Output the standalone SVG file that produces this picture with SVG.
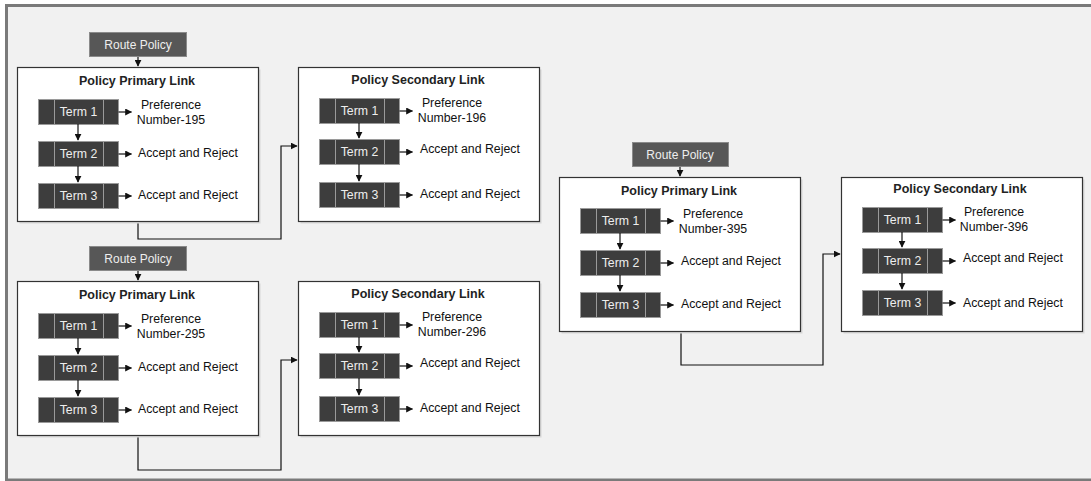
<svg xmlns="http://www.w3.org/2000/svg" width="1091" height="481" viewBox="0 0 1091 481">
<defs>
<marker id="ah" viewBox="0 0 10 10" refX="9" refY="5" markerWidth="7" markerHeight="7" markerUnits="userSpaceOnUse" orient="auto"><path d="M0,0 L10,5 L0,10 z" fill="#111"/></marker>
<g id="term">
<rect x="0" y="0" width="80" height="25" fill="#3d3d3d" stroke="#9a9a9a" stroke-width="1"/>
<line x1="16" y1="0" x2="16" y2="25" stroke="#9a9a9a" stroke-width="1"/>
<line x1="65" y1="0" x2="65" y2="25" stroke="#9a9a9a" stroke-width="1"/>
<line x1="80" y1="12.5" x2="93" y2="12.5" class="conn" marker-end="url(#ah)"/>
</g>
</defs>
<style>
text{font-family:"Liberation Sans",Arial,sans-serif;}
.box{fill:#fff;stroke:#333;stroke-width:1.2;}
.shadow{fill:#d8d8d8;}
.title{font-size:12.5px;font-weight:bold;fill:#222;text-anchor:middle;}
.tl{font-size:12.3px;fill:#eee;text-anchor:middle;}
.lbl{font-size:12.3px;fill:#111;}
.lblc{font-size:12.3px;fill:#111;text-anchor:middle;}
.rp{fill:#575757;stroke:#8a8a8a;stroke-width:1;}
.rpt{font-size:12px;fill:#eee;text-anchor:middle;}
.conn{fill:none;stroke:#111;stroke-width:1.2;}
</style>
<rect x="6.5" y="5.5" width="1100" height="474.5" fill="#f1f1f1" stroke="#7a7a7a" stroke-width="3"/>

<g id="connectors">
<path class="conn" d="M138,56 V66" marker-end="url(#ah)"/>
<path class="conn" d="M138,270 V280" marker-end="url(#ah)"/>
<path class="conn" d="M680,166 V176" marker-end="url(#ah)"/>
<path class="conn" d="M138,222 V239 H281 V146 H297" marker-end="url(#ah)"/>
<path class="conn" d="M138,436 V470 H281 V360 H297" marker-end="url(#ah)"/>
<path class="conn" d="M681,331 V365 H823 V254 H840" marker-end="url(#ah)"/>
</g>

<g id="route-policy-1">
<rect class="rp" x="89.5" y="32.5" width="97" height="24"/>
<text class="rpt" x="138" y="48.5">Route Policy</text>
</g>
<g id="route-policy-2">
<rect class="rp" x="89.5" y="246.5" width="97" height="24"/>
<text class="rpt" x="138" y="262.5">Route Policy</text>
</g>
<g id="route-policy-3">
<rect class="rp" x="632.5" y="142.5" width="96" height="24"/>
<text class="rpt" x="680" y="158.5">Route Policy</text>
</g>

<g id="primary-1">
<rect class="shadow" x="19.5" y="69.5" width="241" height="154"/>
<rect class="box" x="17.5" y="67.5" width="241" height="154"/>
<text class="title" x="137" y="85">Policy Primary Link</text>
<use href="#term" x="38.5" y="99.5"/>
<use href="#term" x="38.5" y="141.5"/>
<use href="#term" x="38.5" y="183.5"/>
<text class="tl" x="78.5" y="116">Term 1</text>
<text class="tl" x="78.5" y="158">Term 2</text>
<text class="tl" x="78.5" y="200">Term 3</text>
<path class="conn" d="M78,124 V140" marker-end="url(#ah)"/>
<path class="conn" d="M78,166 V182" marker-end="url(#ah)"/>
<text class="lblc" x="171" y="109">Preference</text>
<text class="lblc" x="171" y="124">Number-195</text>
<text class="lbl" x="138" y="157">Accept and Reject</text>
<text class="lbl" x="138" y="199">Accept and Reject</text>
</g>

<g id="secondary-1">
<rect class="shadow" x="300.5" y="69.5" width="241" height="154"/>
<rect class="box" x="298.5" y="67.5" width="241" height="154"/>
<text class="title" x="418" y="84">Policy Secondary Link</text>
<use href="#term" x="319.5" y="98.5"/>
<use href="#term" x="319.5" y="139.5"/>
<use href="#term" x="319.5" y="182.5"/>
<text class="tl" x="359.5" y="115">Term 1</text>
<text class="tl" x="359.5" y="156">Term 2</text>
<text class="tl" x="359.5" y="199">Term 3</text>
<path class="conn" d="M359,123 V138" marker-end="url(#ah)"/>
<path class="conn" d="M359,164 V181" marker-end="url(#ah)"/>
<text class="lblc" x="452" y="107">Preference</text>
<text class="lblc" x="452" y="122">Number-196</text>
<text class="lbl" x="420" y="153">Accept and Reject</text>
<text class="lbl" x="420" y="198">Accept and Reject</text>
</g>

<g id="primary-2">
<rect class="shadow" x="19.5" y="283.5" width="241" height="154"/>
<rect class="box" x="17.5" y="281.5" width="241" height="154"/>
<text class="title" x="137" y="299">Policy Primary Link</text>
<use href="#term" x="38.5" y="313.5"/>
<use href="#term" x="38.5" y="355.5"/>
<use href="#term" x="38.5" y="397.5"/>
<text class="tl" x="78.5" y="330">Term 1</text>
<text class="tl" x="78.5" y="372">Term 2</text>
<text class="tl" x="78.5" y="414">Term 3</text>
<path class="conn" d="M78,338 V354" marker-end="url(#ah)"/>
<path class="conn" d="M78,380 V396" marker-end="url(#ah)"/>
<text class="lblc" x="171" y="323">Preference</text>
<text class="lblc" x="171" y="338">Number-295</text>
<text class="lbl" x="138" y="371">Accept and Reject</text>
<text class="lbl" x="138" y="413">Accept and Reject</text>
</g>

<g id="secondary-2">
<rect class="shadow" x="300.5" y="283.5" width="241" height="154"/>
<rect class="box" x="298.5" y="281.5" width="241" height="154"/>
<text class="title" x="418" y="298">Policy Secondary Link</text>
<use href="#term" x="319.5" y="312.5"/>
<use href="#term" x="319.5" y="353.5"/>
<use href="#term" x="319.5" y="396.5"/>
<text class="tl" x="359.5" y="329">Term 1</text>
<text class="tl" x="359.5" y="370">Term 2</text>
<text class="tl" x="359.5" y="413">Term 3</text>
<path class="conn" d="M359,337 V352" marker-end="url(#ah)"/>
<path class="conn" d="M359,378 V395" marker-end="url(#ah)"/>
<text class="lblc" x="452" y="321">Preference</text>
<text class="lblc" x="452" y="336">Number-296</text>
<text class="lbl" x="420" y="367">Accept and Reject</text>
<text class="lbl" x="420" y="412">Accept and Reject</text>
</g>

<g id="primary-3">
<rect class="shadow" x="561.5" y="179.5" width="241" height="154"/>
<rect class="box" x="559.5" y="177.5" width="241" height="154"/>
<text class="title" x="679" y="195">Policy Primary Link</text>
<use href="#term" x="580.5" y="208.5"/>
<use href="#term" x="580.5" y="250.5"/>
<use href="#term" x="580.5" y="292.5"/>
<text class="tl" x="620.5" y="225">Term 1</text>
<text class="tl" x="620.5" y="267">Term 2</text>
<text class="tl" x="620.5" y="309">Term 3</text>
<path class="conn" d="M620,233 V249" marker-end="url(#ah)"/>
<path class="conn" d="M620,275 V291" marker-end="url(#ah)"/>
<text class="lblc" x="713" y="218">Preference</text>
<text class="lblc" x="713" y="233">Number-395</text>
<text class="lbl" x="681" y="265">Accept and Reject</text>
<text class="lbl" x="681" y="308">Accept and Reject</text>
</g>

<g id="secondary-3">
<rect class="shadow" x="843.5" y="179.5" width="241" height="154"/>
<rect class="box" x="841.5" y="177.5" width="241" height="154"/>
<text class="title" x="960" y="193">Policy Secondary Link</text>
<use href="#term" x="862.5" y="207.5"/>
<use href="#term" x="862.5" y="248.5"/>
<use href="#term" x="862.5" y="290.5"/>
<text class="tl" x="902.5" y="224">Term 1</text>
<text class="tl" x="902.5" y="265">Term 2</text>
<text class="tl" x="902.5" y="307">Term 3</text>
<path class="conn" d="M902,232 V247" marker-end="url(#ah)"/>
<path class="conn" d="M902,273 V289" marker-end="url(#ah)"/>
<text class="lblc" x="994" y="216">Preference</text>
<text class="lblc" x="994" y="231">Number-396</text>
<text class="lbl" x="963" y="262">Accept and Reject</text>
<text class="lbl" x="963" y="307">Accept and Reject</text>
</g>
</svg>
